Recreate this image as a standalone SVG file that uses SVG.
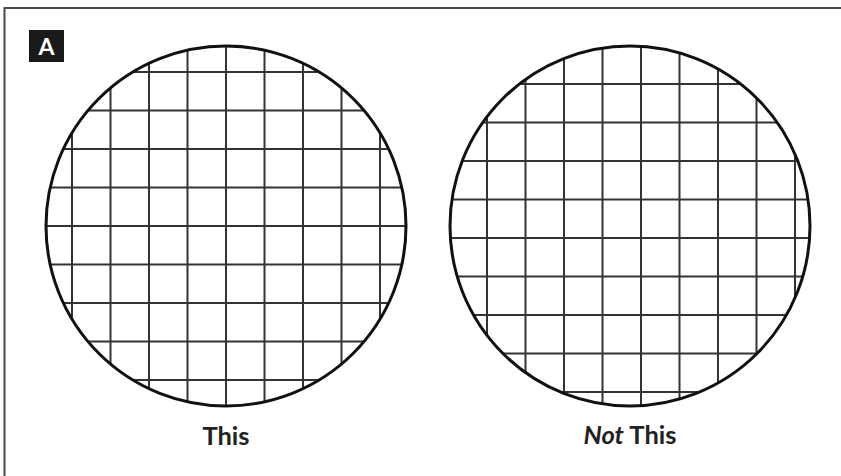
<svg xmlns="http://www.w3.org/2000/svg" width="841" height="476" viewBox="0 0 841 476">
  <style>
    .frame { fill: none; stroke: #4a4a4a; stroke-width: 2; }
    .grid line { stroke: #333; stroke-width: 2; }
    .rim { fill: none; stroke: #111; stroke-width: 3; }
    .label { font-family: Lato, "Open Sans", "Liberation Sans", sans-serif; font-weight: 700; font-size: 25.5px; fill: #222; text-anchor: middle; }
    .badge-text { font-family: Lato, "Liberation Sans", sans-serif; font-weight: 700; font-size: 23px; fill: #fff; text-anchor: middle; }
  </style>
  <defs>
    <clipPath id="clip1"><circle cx="226" cy="226" r="180"/></clipPath>
    <clipPath id="clip2"><circle cx="630" cy="226" r="180"/></clipPath>
  </defs>
  <rect width="841" height="476" fill="#fff"/>
  <path class="frame" d="M4.5 476 V8 H841"/>

  <g id="badge">
    <rect x="29" y="30" width="35" height="32" fill="#1a1a1a"/>
    <text class="badge-text" x="46.5" y="55">A</text>
  </g>

  <g id="circle-this">
    <g class="grid" clip-path="url(#clip1)">
      <line x1="72" y1="40" x2="72" y2="412"/>
      <line x1="110.5" y1="40" x2="110.5" y2="412"/>
      <line x1="149" y1="40" x2="149" y2="412"/>
      <line x1="187.5" y1="40" x2="187.5" y2="412"/>
      <line x1="226" y1="40" x2="226" y2="412"/>
      <line x1="264.5" y1="40" x2="264.5" y2="412"/>
      <line x1="303" y1="40" x2="303" y2="412"/>
      <line x1="341.5" y1="40" x2="341.5" y2="412"/>
      <line x1="380" y1="40" x2="380" y2="412"/>
      <line x1="40" y1="72" x2="412" y2="72"/>
      <line x1="40" y1="110.5" x2="412" y2="110.5"/>
      <line x1="40" y1="149" x2="412" y2="149"/>
      <line x1="40" y1="187.5" x2="412" y2="187.5"/>
      <line x1="40" y1="226" x2="412" y2="226"/>
      <line x1="40" y1="264.5" x2="412" y2="264.5"/>
      <line x1="40" y1="303" x2="412" y2="303"/>
      <line x1="40" y1="341.5" x2="412" y2="341.5"/>
      <line x1="40" y1="380" x2="412" y2="380"/>
    </g>
    <circle class="rim" cx="226" cy="226" r="180"/>
    <text class="label" x="226" y="445">This</text>
  </g>

  <g id="circle-not-this">
    <g class="grid" clip-path="url(#clip2)">
      <line x1="487" y1="40" x2="487" y2="412"/>
      <line x1="525.5" y1="40" x2="525.5" y2="412"/>
      <line x1="564" y1="40" x2="564" y2="412"/>
      <line x1="602.5" y1="40" x2="602.5" y2="412"/>
      <line x1="641" y1="40" x2="641" y2="412"/>
      <line x1="679.5" y1="40" x2="679.5" y2="412"/>
      <line x1="718" y1="40" x2="718" y2="412"/>
      <line x1="756.5" y1="40" x2="756.5" y2="412"/>
      <line x1="795" y1="40" x2="795" y2="412"/>
      <line x1="444" y1="84" x2="816" y2="84"/>
      <line x1="444" y1="122.5" x2="816" y2="122.5"/>
      <line x1="444" y1="161" x2="816" y2="161"/>
      <line x1="444" y1="199.5" x2="816" y2="199.5"/>
      <line x1="444" y1="238" x2="816" y2="238"/>
      <line x1="444" y1="276.5" x2="816" y2="276.5"/>
      <line x1="444" y1="315" x2="816" y2="315"/>
      <line x1="444" y1="353.5" x2="816" y2="353.5"/>
      <line x1="444" y1="392" x2="816" y2="392"/>
    </g>
    <circle class="rim" cx="630" cy="226" r="180"/>
    <text class="label" x="630" y="444"><tspan font-style="italic">Not</tspan> This</text>
  </g>
</svg>
